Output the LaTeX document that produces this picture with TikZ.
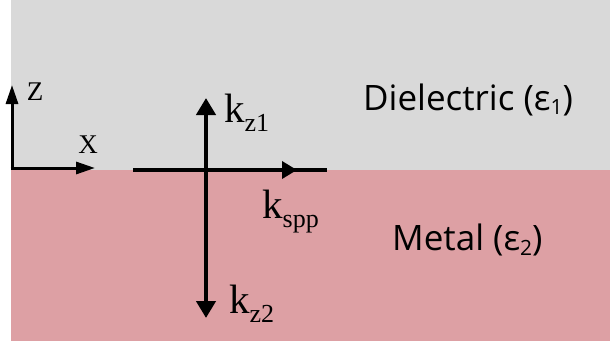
\documentclass[tikz,border=0pt]{standalone}
\usepackage{fontspec}
\setmainfont{Liberation Serif}
\newfontfamily\labelsans{Open Sans}
\usetikzlibrary{arrows.meta}
\definecolor{dielgray}{RGB}{217,217,217}
\definecolor{metalpink}{RGB}{221,160,164}
% wave-vector label: k with a lowered subscript
\newcommand{\kvec}[1]{k\raisebox{-9pt}{\fontsize{26}{26}\selectfont #1}}
\newcommand{\epsub}[1]{\raisebox{-5pt}{\fontsize{21}{21}\selectfont #1}}
\begin{document}
\begin{tikzpicture}[x=1pt,y=-1pt,
  axis/.style={line width=3pt,-{Triangle[length=19pt,width=12pt]}},
  wave/.style={line width=4.5pt,-{Triangle[length=17pt,width=19pt]}},
  klabel/.style={anchor=base west,inner sep=0pt,font=\fontsize{41}{41}\selectfont},
  axlabel/.style={inner sep=0pt,font=\fontsize{27}{27}\selectfont},
  medium/.style={anchor=base west,inner sep=0pt,font=\labelsans\fontsize{35}{35}\selectfont}]
\useasboundingbox (0,0) rectangle (610,345);
\fill[white] (0,0) rectangle (610,345);
% the two half-spaces
\fill[dielgray] (11,0) rectangle (610,170);
\fill[metalpink] (11,170) rectangle (610,341);
% coordinate axes
\coordinate (o) at (12,168);
\coordinate (zt) at (12,85);
\coordinate (xt) at (95,168);
\draw[axis] (o) -- (zt);
\draw[axis] ([xshift=-1.5pt]o) -- (xt);
\node[axlabel] (zl) at (35,92) {Z};
\node[axlabel] (xl) at (88,145) {X};
% wave vectors at the interface
\coordinate (c) at (206,170);
\coordinate (up) at (206,98);
\coordinate (dn) at (206,318);
\coordinate (hl) at (133,170);
\coordinate (hr) at (327,170);
\coordinate (ht) at (297,170);
\draw[line width=3.5pt] (hl) -- (hr);
\draw[line width=3.5pt,-{Triangle[length=15pt,width=17pt]}] (hl) -- (ht);
\draw[wave] (c) -- (up);
\draw[wave] (c) -- (dn);
\node[klabel] (kz1) at (224,122) {\kvec{z1}};
\node[klabel] (kspp) at (262,218) {\kvec{spp}};
\node[klabel] (kz2) at (229,313) {\kvec{z2}};
% media
\node[medium] (diel) at (363,110) {Dielectric (ε\epsub{1})};
\node[medium] (metal) at (392,250) {Metal (ε\epsub{2})};
\end{tikzpicture}
\end{document}
